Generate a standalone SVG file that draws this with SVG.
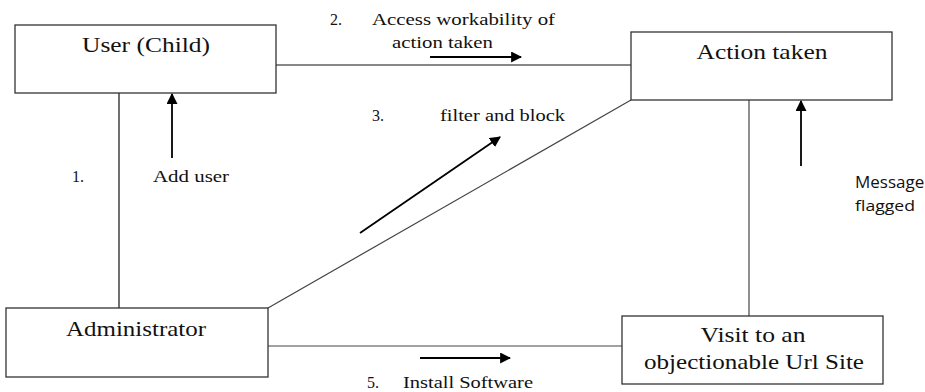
<svg xmlns="http://www.w3.org/2000/svg" width="925" height="392" viewBox="0 0 925 392">
<style>
.box{fill:#fff;stroke:#333;stroke-width:1.3}
.conn{stroke:#444;stroke-width:1.2;fill:none}
.arr{stroke:#000;stroke-width:1.8;fill:none}
.nt{font-family:'Liberation Serif','Times New Roman','DejaVu Serif',serif;font-size:21px;fill:#111;text-anchor:middle}
.lb{font-family:'Liberation Serif','Times New Roman','DejaVu Serif',serif;font-size:16px;fill:#111}
.sl{font-family:'Open Sans','Liberation Sans',sans-serif;font-size:15px;fill:#111}
</style>
<defs>
<marker id="ah" viewBox="0 0 10 10" refX="9" refY="5" markerWidth="11" markerHeight="11" markerUnits="userSpaceOnUse" orient="auto">
<path d="M0,0 L10,5 L0,10 Z" fill="#000"/>
</marker>
</defs>
<rect width="925" height="392" fill="#fff"/>
<g id="connectors">
<line class="conn" x1="276" y1="65" x2="631" y2="65" style="stroke:#111"/>
<line class="conn" x1="119" y1="93" x2="119" y2="308" style="stroke:#111"/>
<line class="conn" x1="268" y1="308" x2="631" y2="100"/>
<line class="conn" x1="268" y1="346" x2="622" y2="346"/>
<line class="conn" x1="749" y1="100" x2="749" y2="316"/>
<line class="arr" x1="430" y1="57" x2="521" y2="57" marker-end="url(#ah)"/>
<line class="arr" x1="172" y1="158" x2="172" y2="94" marker-end="url(#ah)"/>
<line class="arr" x1="360" y1="233" x2="500" y2="137" marker-end="url(#ah)"/>
<line class="arr" x1="801" y1="166" x2="801" y2="101" marker-end="url(#ah)"/>
<line class="arr" x1="420" y1="358" x2="510" y2="358" marker-end="url(#ah)"/>
<text class="lb" x="330" y="25">2.</text>
<text class="lb" x="372" y="25" textLength="183" lengthAdjust="spacingAndGlyphs">Access workability of</text>
<text class="lb" x="392" y="48" textLength="101" lengthAdjust="spacingAndGlyphs">action taken</text>
<text class="lb" x="372" y="121">3.</text>
<text class="lb" x="440" y="121" textLength="125" lengthAdjust="spacingAndGlyphs">filter and block</text>
<text class="lb" x="72" y="182">1.</text>
<text class="lb" x="153" y="182" textLength="76" lengthAdjust="spacingAndGlyphs">Add user</text>
<text class="lb" x="367" y="388">5.</text>
<text class="lb" x="403" y="388" textLength="130" lengthAdjust="spacingAndGlyphs">Install Software</text>
<text class="sl" x="855" y="188" style="font-size:17px">Message</text>
<text class="sl" x="855" y="211" textLength="60" lengthAdjust="spacingAndGlyphs">flagged</text>
</g>
<g id="user">
<rect class="box" x="15" y="25" width="261" height="68"/>
<text class="nt" x="146" y="52" textLength="128" lengthAdjust="spacingAndGlyphs">User (Child)</text>
</g>
<g id="action">
<rect class="box" x="631" y="32" width="261" height="68"/>
<text class="nt" x="762" y="59" textLength="131" lengthAdjust="spacingAndGlyphs">Action taken</text>
</g>
<g id="admin">
<rect class="box" x="6" y="308" width="262" height="69"/>
<text class="nt" x="136" y="336" textLength="140" lengthAdjust="spacingAndGlyphs">Administrator</text>
</g>
<g id="visit">
<rect class="box" x="622" y="316" width="261" height="68"/>
<text class="nt" x="753" y="342" textLength="105" lengthAdjust="spacingAndGlyphs">Visit to an</text>
<text class="nt" x="754" y="369" textLength="220" lengthAdjust="spacingAndGlyphs">objectionable Url Site</text>
</g>
</svg>
